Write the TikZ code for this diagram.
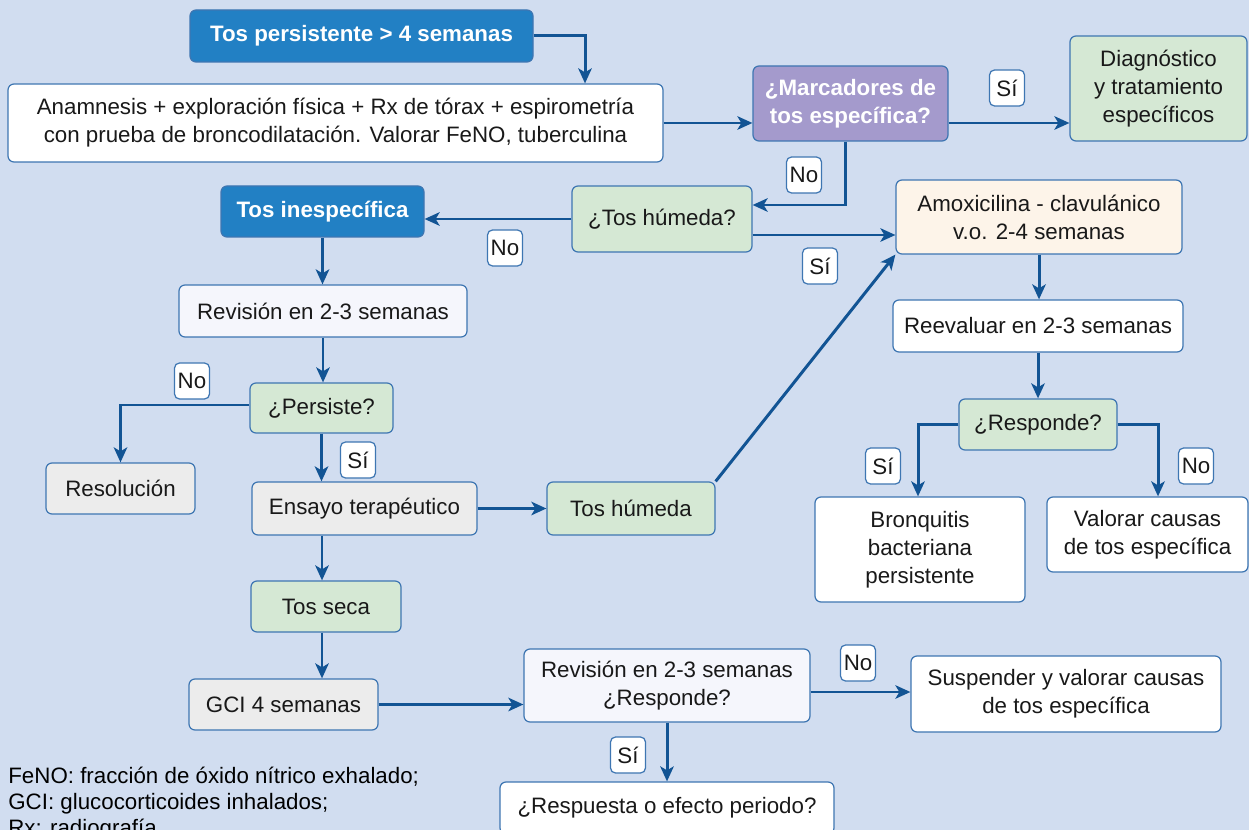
\documentclass[tikz,border=0pt]{standalone}
\usepackage{fontspec}
\setmainfont{Liberation Sans}
\usetikzlibrary{arrows.meta}
\definecolor{fondo}{RGB}{209,221,240}
\definecolor{azul}{RGB}{34,128,196}
\definecolor{morado}{RGB}{164,154,204}
\definecolor{verde}{RGB}{213,232,212}
\definecolor{crema}{RGB}{253,244,233}
\definecolor{gris}{RGB}{236,236,236}
\definecolor{lila}{RGB}{245,246,252}
\definecolor{borde}{RGB}{62,118,178}
\definecolor{linea}{RGB}{18,84,148}

\begin{document}
\begin{tikzpicture}[x=0.2mm,y=-0.2mm,
		font=\fontsize{12.7}{16}\selectfont,
		tam/.style 2 args={minimum width=#1*0.2mm,minimum height=#2*0.2mm},
		caja/.style={draw=borde,line width=0.7pt,rounded corners=1.2mm,align=center,inner sep=0pt,text=black!90},
		oscura/.style={caja,fill=azul,text=white,font=\fontsize{12.7}{16}\selectfont\bfseries},
		pregunta/.style={caja,fill=morado,text=white,font=\fontsize{12.7}{16}\selectfont\bfseries},
		verdecaja/.style={caja,fill=verde},
		blanca/.style={caja,fill=white},
		grisecaja/.style={caja,fill=gris},
		lilacaja/.style={caja,fill=lila},
		cremacaja/.style={caja,fill=crema},
		etiqueta/.style={caja,fill=white,rounded corners=1mm,tam={35}{36}},
		flecha/.style={draw=linea,line width=1.7pt,-{Stealth[length=3mm,width=2.7mm,inset=0.8mm]}}]
		\fill[fondo] (0,0) rectangle (1249,830);
		\useasboundingbox (0,0) rectangle (1249,830);
		\node[oscura,tam={343}{52}] (inicio) at (361.5,36) {Tos persistente > 4 semanas};
		\node[blanca,tam={655}{78}] (anamnesis) at (335.5,123) {Anamnesis + exploración física + Rx de tórax + espirometría\\con prueba de broncodilatación. Valorar FeNO, tuberculina};
		\node[pregunta,tam={195}{75}] (marcadores) at (850.5,103.5) {¿Marcadores de\\tos específica?};
		\node[verdecaja,tam={177}{105}] (diagnostico) at (1158.5,88.5) {Diagnóstico\\y tratamiento\\específicos};
		\node[oscura,tam={203}{51}] (inespecifica) at (322.5,211.5) {Tos inespecífica};
		\node[verdecaja,tam={180}{66}] (humeda) at (662,219) {¿Tos húmeda?};
		\node[cremacaja,tam={286}{74}] (amoxicilina) at (1039,217) {Amoxicilina - clavulánico\\v.o. 2-4 semanas};
		\node[lilacaja,tam={288}{52}] (revision) at (323,311) {Revisión en 2-3 semanas};
		\node[blanca,tam={290}{52}] (reevaluar) at (1038,326) {Reevaluar en 2-3 semanas};
		\node[verdecaja,tam={143}{50}] (persiste) at (321.5,408) {¿Persiste?};
		\node[verdecaja,tam={158}{51}] (responde) at (1038,424.5) {¿Responde?};
		\node[grisecaja,tam={149}{51}] (resolucion) at (120.5,488.5) {Resolución};
		\node[grisecaja,tam={225}{53}] (ensayo) at (364.5,508.5) {Ensayo terapéutico};
		\node[verdecaja,tam={168}{53}] (toshumeda) at (631,508.5) {Tos húmeda};
		\node[blanca,tam={210}{105}] (bronquitis) at (920,549.5) {Bronquitis\\bacteriana\\persistente};
		\node[blanca,tam={201}{75}] (valorar) at (1147.5,534.5) {Valorar causas\\de tos específica};
		\node[verdecaja,tam={150}{51}] (tosseca) at (326,606.5) {Tos seca};
		\node[grisecaja,tam={189}{51}] (gci) at (283.5,704.5) {GCI 4 semanas};
		\node[lilacaja,tam={286}{73}] (revision2) at (667,685.5) {Revisión en 2-3 semanas\\¿Responde?};
		\node[blanca,tam={310}{76}] (suspender) at (1066,694) {Suspender y valorar causas\\de tos específica};
		\node[blanca,tam={334}{52}] (efecto) at (667,808) {¿Respuesta o efecto periodo?};
		\node[anchor=north west,align=left,inner sep=0pt,font=\fontsize{12.7}{14.7}\selectfont] (leyenda) at (8,767) {FeNO: fracción de óxido nítrico exhalado;\\GCI: glucocorticoides inhalados;\\Rx: radiografía};
		\draw[flecha] (inicio.east) -| (585,0 |- anamnesis.north);
		\draw[flecha] (anamnesis.east) -- (marcadores.west |- anamnesis.east);
		\draw[flecha] (marcadores.east |- anamnesis.east) -- (diagnostico.west |- anamnesis.east);
		\draw[flecha] (845,0 |- marcadores.south) |- (humeda.east |- 0,205);
		\draw[flecha] (humeda.west) -- (inespecifica.east |- humeda.west);
		\draw[flecha] (humeda.east |- 0,235) -- (amoxicilina.west |- 0,235);
		\draw[flecha] (inespecifica.south) -- (inespecifica.south |- revision.north);
		\draw[flecha] (revision.south) -- (revision.south |- persiste.north);
		\draw[flecha] (persiste.west |- 0,405) -| (resolucion.north);
		\draw[flecha] (persiste.south) -- (persiste.south |- ensayo.north);
		\draw[flecha] (ensayo.east) -- (toshumeda.west);
		\draw[flecha] (toshumeda.north east) -- (amoxicilina.south west);
		\draw[flecha] (322,0 |- ensayo.south) -- (322,0 |- tosseca.north);
		\draw[flecha] (322,0 |- tosseca.south) -- (322,0 |- gci.north);
		\draw[flecha] (gci.east) -- (revision2.west |- gci.east);
		\draw[flecha] (amoxicilina.south) -- (amoxicilina.south |- reevaluar.north);
		\draw[flecha] (reevaluar.south) -- (reevaluar.south |- responde.north);
		\draw[flecha] (responde.west) -| (918,0 |- bronquitis.north);
		\draw[flecha] (responde.east) -| (1158,0 |- valorar.north);
		\draw[flecha] (revision2.east |- 0,692) -- (suspender.west |- 0,692);
		\draw[flecha] (revision2.south) -- (efecto.north);
		\node[etiqueta] (si1) at (1007,88) {Sí};
		\node[etiqueta] (no1) at (804,175) {No};
		\node[etiqueta] (no2) at (505,248) {No};
		\node[etiqueta] (si2) at (820,266) {Sí};
		\node[etiqueta] (no3) at (192,381) {No};
		\node[etiqueta] (si3) at (358,460) {Sí};
		\node[etiqueta] (si4) at (883,466) {Sí};
		\node[etiqueta] (no4) at (1196,466) {No};
		\node[etiqueta] (no5) at (858,663) {No};
		\node[etiqueta] (si5) at (628,755) {Sí};
	\end{tikzpicture}
\end{document}
